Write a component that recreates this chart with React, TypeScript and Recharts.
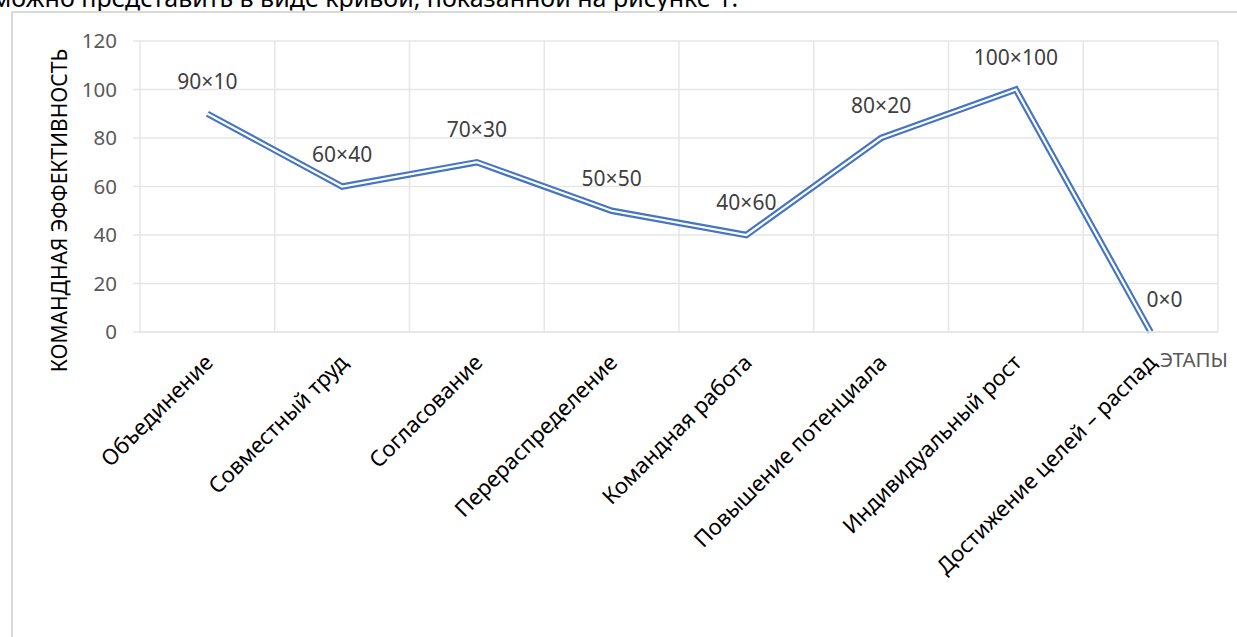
import React from 'react';
import {
  LineChart,
  Line,
  XAxis,
  YAxis,
  CartesianGrid,
  LabelList,
} from 'recharts';

// Stages of team development
const stages = [
  'Объединение',
  'Совместный труд',
  'Согласование',
  'Перераспределение',
  'Командная работа',
  'Повышение потенциала',
  'Индивидуальный рост',
  'Достижение целей – распад',
];
const efficiency = [90, 60, 70, 50, 40, 80, 100, 0];
const pointLabels = ['90×10', '60×40', '70×30', '50×50', '40×60', '80×20', '100×100', '0×0'];
const yTicks = [0, 20, 40, 60, 80, 100, 120];

const chartData = stages.map((stage, i) => ({
  stage,
  value: efficiency[i],
  label: pointLabels[i],
}));

const FONT = '"Noto Sans", "Open Sans", sans-serif';
const LINE_BLUE = '#4676C2';
const GRID = '#E6E6E6';

const W = 1237;
const H = 637;
const MARGIN = { top: 41, right: 19, left: 80, bottom: 245 };
const Y_AXIS_W = 60;
const X_AXIS_H = 60;
const PLOT_W = W - MARGIN.left - Y_AXIS_W - MARGIN.right;
const HALF_BAND = PLOT_W / stages.length / 2;

// Rotated category label, anchored at its end
const StageTick = ({ x, y, payload }: any) => (
  <text
    x={x + 7}
    y={y + 24}
    transform={`rotate(-45, ${x + 7}, ${y + 24})`}
    textAnchor="end"
    fill="#000"
    fontSize={22}
    fontFamily={FONT}
  >
    {payload.value}
  </text>
);

// Label above each point, last one nudged right
const PointLabel = ({ x, y, value, index }: any) => (
  <text
    x={x + (index === stages.length - 1 ? 14 : 0)}
    y={y - 25}
    textAnchor="middle"
    fill="#404040"
    fontSize={21}
    fontFamily={FONT}
  >
    {value}
  </text>
);

export default function App() {
  return (
    <div
      style={{
        position: 'absolute',
        left: 0,
        top: 0,
        width: W,
        height: H,
        background: '#fff',
        overflow: 'hidden',
      }}
    >
      <div
        style={{
          position: 'absolute',
          left: -8,
          top: -15,
          fontFamily: FONT,
          fontSize: 25,
          lineHeight: '25px',
          color: '#000',
          whiteSpace: 'nowrap',
        }}
      >
        можно представить в виде кривой, показанной на рисунке 1.
      </div>
      <div
        style={{
          position: 'absolute',
          left: 11,
          top: 11,
          right: 0,
          bottom: 0,
          borderTop: '2px solid #DADADA',
          borderLeft: '2px solid #DADADA',
        }}
      />
      <div style={{ position: 'absolute', left: 0, top: 0 }}>
        <LineChart width={W} height={H} data={chartData} margin={MARGIN}>
          <CartesianGrid
            stroke={GRID}
            strokeWidth={1.5}
            verticalCoordinatesGenerator={({ offset }: any) =>
              stages
                .map((_, i) => offset.left + (i * offset.width) / stages.length)
                .concat(offset.left + offset.width)
            }
          />
          <XAxis
            dataKey="stage"
            height={X_AXIS_H}
            interval={0}
            padding={{ left: HALF_BAND, right: HALF_BAND }}
            axisLine={{ stroke: GRID, strokeWidth: 1.5 }}
            tickLine={false}
            tick={<StageTick />}
            label={{
              content: ({ viewBox }: any) => (
                <text
                  x={viewBox.x + viewBox.width + 10}
                  y={viewBox.y + 35}
                  textAnchor="end"
                  fill="#595959"
                  fontSize={20.5}
                  fontFamily={FONT}
                >
                  ЭТАПЫ
                </text>
              ),
            }}
          />
          <YAxis
            width={Y_AXIS_W}
            domain={[0, 120]}
            ticks={yTicks}
            interval={0}
            axisLine={false}
            tickLine={{ stroke: GRID, strokeWidth: 1.5 }}
            tickSize={7}
            tickMargin={16}
            tick={{ fill: '#595959', fontSize: 20.5, fontFamily: FONT }}
            label={{
              content: ({ viewBox }: any) => {
                const cx = viewBox.x - 21;
                const cy = viewBox.y + viewBox.height / 2 + 24;
                return (
                  <text
                    x={cx}
                    y={cy}
                    transform={`rotate(-90, ${cx}, ${cy})`}
                    textAnchor="middle"
                    dominantBaseline="central"
                    fill="#000"
                    fontSize={21}
                    fontFamily={FONT}
                  >
                    КОМАНДНАЯ ЭФФЕКТИВНОСТЬ
                  </text>
                );
              },
            }}
          />
          <Line
            dataKey="value"
            stroke={LINE_BLUE}
            strokeWidth={6.5}
            strokeLinejoin="miter"
            strokeLinecap="butt"
            dot={false}
            activeDot={false}
            isAnimationActive={false}
          />
          <Line
            dataKey="value"
            stroke="#fff"
            strokeWidth={2.2}
            strokeLinejoin="miter"
            strokeLinecap="butt"
            dot={false}
            activeDot={false}
            isAnimationActive={false}
          >
            <LabelList dataKey="label" content={<PointLabel />} />
          </Line>
        </LineChart>
      </div>
    </div>
  );
}
